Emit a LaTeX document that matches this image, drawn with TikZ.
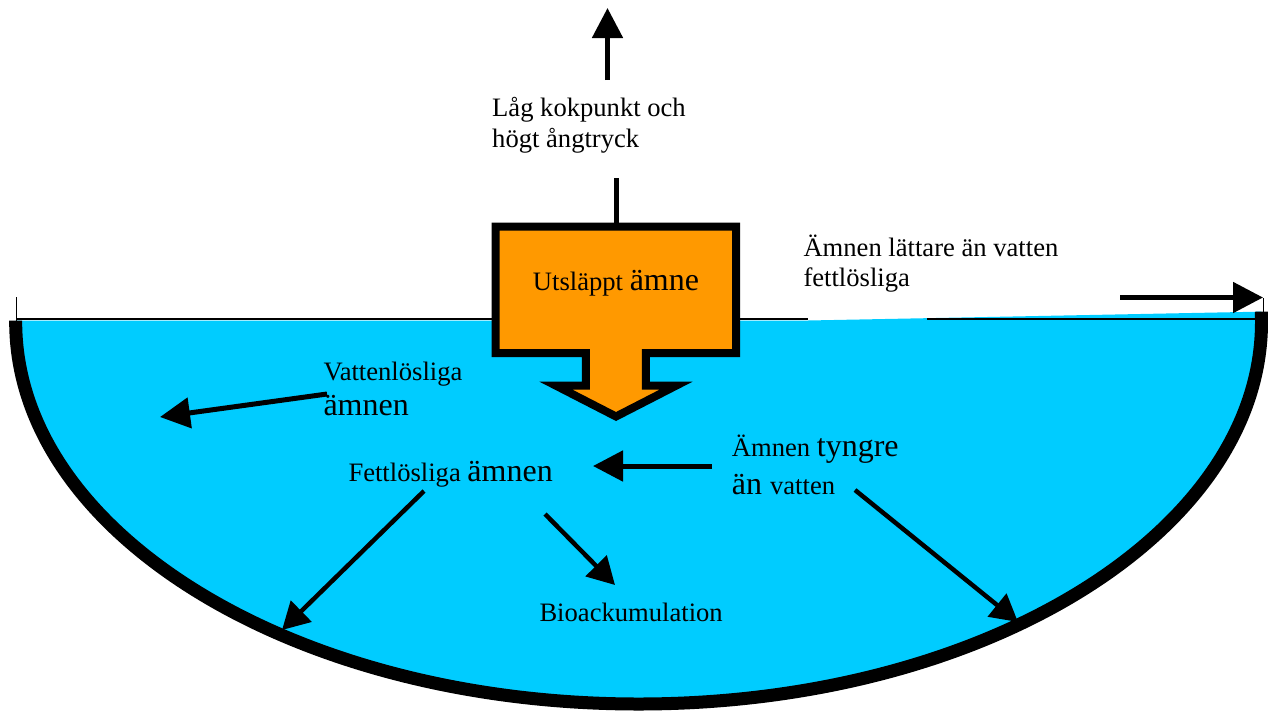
\documentclass[tikz,border=0pt]{standalone}
\usepackage{fontspec}
\setmainfont{Liberation Serif}
\usetikzlibrary{arrows.meta}
\definecolor{water}{RGB}{0,204,255}
\definecolor{spill}{RGB}{255,153,0}
\newcommand{\txtS}{\fontsize{26.6}{31}\selectfont}
\newcommand{\txtL}{\fontsize{32}{37}\selectfont}
\begin{document}
\begin{tikzpicture}[x=1pt,y=-1pt,
  lbl/.style={anchor=base west, inner sep=0pt, font=\txtS},
  flow/.style={line width=5pt, -{Triangle[length=30pt,width=30pt]}},
  sflow/.style={line width=4.5pt, -{Triangle[length=27pt,width=29pt]}},
  rim/.style={line width=13pt},
  surface/.style={line width=2pt}]
\useasboundingbox (0,0) rectangle (1268,710);

% basin: water body and thick rim, cut off at the surface
\begin{scope}
  \clip (0,320.5) -- (808,320.5) -- (1268,311.5) -- (1268,720) -- (0,720) -- cycle;
  \fill[water] (638.6,322) ellipse[x radius=622.9, y radius=382];
  \draw[rim] (638.6,322) ellipse[x radius=622.9, y radius=382];
\end{scope}

% water surface
\draw[surface] (16.5,318.5) -- (808,318.5);
\draw[surface] (927,318.5) -- (1256,318.5);
\draw[line width=1.2pt] (16.5,297) -- (16.5,321);
\draw[line width=1pt] (1263.5,298) -- (1263.5,312);

% released substance: box with downward arrow
\draw[line width=8pt, fill=spill]
  (495.7,226.7) -- (736,226.7) -- (736,353) -- (645.9,353) -- (645.9,385.7)
  -- (676,385.7) -- (616,416.5) -- (556,385.7) -- (585.9,385.7) -- (585.9,353)
  -- (495.7,353) -- cycle;
\node[anchor=base, inner sep=0pt] (src) at (616,290) {\txtS Utsläppt \txtL ämne};

% stem above the box and evaporation arrow
\coordinate (stemtop) at (616,178);
\coordinate (boxtop) at (616,226.7);
\draw[line width=5pt] (stemtop) -- (boxtop);
\coordinate (up0) at (607.5,80);
\coordinate (up1) at (607.5,8);
\draw[flow] (up0) -- (up1);

% labels
\node[lbl] (lag1) at (492,116) {Låg kokpunkt och};
\node[lbl] (lag2) at (492,147) {högt ångtryck};
\node[lbl] (light1) at (803.3,256.7) {Ämnen lättare än vatten};
\node[lbl] (light2) at (803.3,286.7) {fettlösliga};
\node[lbl] (wsol1) at (323.3,380) {Vattenlösliga};
\node[lbl, font=\txtL] (wsol2) at (323.3,415) {ämnen};
\node[lbl] (fsol) at (348.3,481.7) {Fettlösliga \txtL ämnen};
\node[lbl] (heavy1) at (731.7,456) {Ämnen \txtL tyngre};
\node[lbl] (heavy2) at (731.7,494) {\txtL än \txtS vatten};
\node[lbl] (bio) at (539.3,621.7) {Bioackumulation};

% flow arrows
\coordinate (fl0) at (1120,297.5);
\coordinate (fl1) at (1263,297.5);
\draw[flow] (fl0) -- (fl1);
\coordinate (ws0) at (327,394);
\coordinate (ws1) at (160,417);
\draw[flow] (ws0) -- (ws1);
\coordinate (hv0) at (712,466);
\coordinate (hv1) at (593,466);
\draw[flow] (hv0) -- (hv1);
\coordinate (fs0) at (424,491);
\coordinate (fs1) at (282,630);
\draw[sflow] (fs0) -- (fs1);
\coordinate (bi0) at (545,514);
\coordinate (bi1) at (615,585);
\draw[sflow] (bi0) -- (bi1);
\coordinate (sk0) at (855,490);
\coordinate (sk1) at (1018,622);
\draw[sflow] (sk0) -- (sk1);
\end{tikzpicture}
\end{document}
